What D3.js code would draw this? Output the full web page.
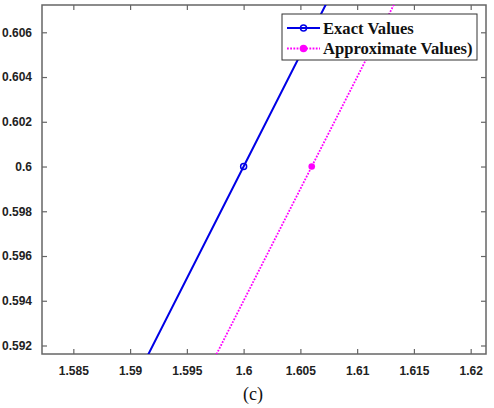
<!DOCTYPE html>
<html>
<head>
<meta charset="utf-8">
<script src="https://cdn.jsdelivr.net/npm/d3@7"></script>
<style>
  body { margin: 0; background: #fff; }
  .tick text { font-family: "Liberation Sans", Arial, sans-serif; font-weight: bold; font-size: 12px; fill: #222; }
</style>
</head>
<body>
<div id="chart"></div>
<script>
const W = 494, H = 408

// data
const exactX = [1.58, 1.6, 1.62]
const exactY = [0.58, 0.6, 0.62]
const approxX = [1.586, 1.606, 1.626]
const approxY = [0.58, 0.6, 0.62]
const xTicks = [1.585, 1.59, 1.595, 1.6, 1.605, 1.61, 1.615, 1.62]
const yTicks = [0.592, 0.594, 0.596, 0.598, 0.6, 0.602, 0.604, 0.606]
const legendLabels = ['Exact Values', 'Approximate Values)']
const caption = '(c)'

const mLeft = 42, mRight = 486, mTop = 5, mBottom = 354

const svg = d3.select('#chart').append('svg')
    .attr('width', W)
    .attr('height', H)

/*
 * scales
 */
const xScale = d3.scaleLinear()
    .domain([1.58224, 1.62135])
    .range([mLeft, mRight])

const yScale = d3.scaleLinear()
    .domain([0.59162, 0.60722])
    .range([mBottom, mTop])

svg.append('clipPath').attr('id', 'clip')
    .append('rect')
    .attr('x', mLeft).attr('y', mTop)
    .attr('width', mRight - mLeft).attr('height', mBottom - mTop)

/*
 * axes, ticks inward on all four sides
 */
const axisColor = '#666'
const tickLen = 5

const xAxis = d3.axisBottom(xScale).tickValues(xTicks).tickSize(-tickLen).tickPadding(12).tickFormat(d3.format('~g'))
const xAxisTop = d3.axisTop(xScale).tickValues(xTicks).tickSize(-tickLen).tickFormat('')
const yAxis = d3.axisLeft(yScale).tickValues(yTicks).tickSize(-tickLen).tickPadding(10).tickFormat(d3.format('~g'))
const yAxisRight = d3.axisRight(yScale).tickValues(yTicks).tickSize(-tickLen).tickFormat('')

function styleAxis(g) {
    g.select('.domain').remove()
    g.selectAll('.tick line').attr('stroke', axisColor).attr('stroke-width', 1.2)
}

svg.append('g').attr('transform', `translate(0,${mBottom})`).call(xAxis).call(styleAxis)
svg.append('g').attr('transform', `translate(0,${mTop})`).call(xAxisTop).call(styleAxis)
svg.append('g').attr('transform', `translate(${mLeft},0)`).call(yAxis).call(styleAxis)
svg.append('g').attr('transform', `translate(${mRight},0)`).call(yAxisRight).call(styleAxis)

svg.append('rect')
    .attr('x', mLeft).attr('y', mTop)
    .attr('width', mRight - mLeft).attr('height', mBottom - mTop)
    .attr('fill', 'none')
    .attr('stroke', axisColor)
    .attr('stroke-width', 1.5)

/*
 * lines
 */
const line = d3.line()
    .x(d => xScale(d[0]))
    .y(d => yScale(d[1]))

const plot = svg.append('g').attr('clip-path', 'url(#clip)')

const exact = exactX.map((x, i) => [x, exactY[i]])
const approx = approxX.map((x, i) => [x, approxY[i]])

plot.append('path')
    .datum(exact)
    .attr('d', line)
    .style('fill', 'none')
    .style('stroke', '#0000e6')
    .style('stroke-width', 2)

plot.append('path')
    .datum(approx)
    .attr('d', line)
    .style('fill', 'none')
    .style('stroke', '#ff00ff')
    .style('stroke-width', 1.8)
    .style('stroke-dasharray', '1.8,1.4')

plot.selectAll('.m-exact').data(exact).enter().append('circle')
    .attr('cx', d => xScale(d[0]))
    .attr('cy', d => yScale(d[1]))
    .attr('r', 3)
    .style('fill', 'none')
    .style('stroke', '#0000e6')
    .style('stroke-width', 1.5)

plot.selectAll('.m-approx').data(approx).enter().append('circle')
    .attr('cx', d => xScale(d[0]))
    .attr('cy', d => yScale(d[1]))
    .attr('r', 3.3)
    .style('fill', '#ff00ff')

/*
 * legend
 */
const lg = svg.append('g')
lg.append('rect')
    .attr('x', 282).attr('y', 14)
    .attr('width', 195).attr('height', 46)
    .attr('fill', '#fff')
    .attr('stroke', '#333')
    .attr('stroke-width', 1)

const rows = [
    { y: 28, color: '#0000e6', dash: null, w: 2, fill: 'none' },
    { y: 48.5, color: '#ff00ff', dash: '1.8,1.4', w: 1.8, fill: '#ff00ff' }
]
rows.forEach((r, i) => {
    lg.append('line')
        .attr('x1', 287).attr('x2', 320)
        .attr('y1', r.y).attr('y2', r.y)
        .style('stroke', r.color)
        .style('stroke-width', r.w)
        .style('stroke-dasharray', r.dash)
    lg.append('circle')
        .attr('cx', 303.5).attr('cy', r.y).attr('r', 3)
        .style('fill', r.fill)
        .style('stroke', r.color)
        .style('stroke-width', 1.5)
    lg.append('text')
        .attr('x', 323).attr('y', r.y + 5.5)
        .style('font-family', '"Liberation Serif", "Times New Roman", serif')
        .style('font-weight', 'bold')
        .style('font-size', '16.6px')
        .style('fill', '#111')
        .text(legendLabels[i])
})

svg.append('text')
    .attr('x', 253).attr('y', 400)
    .attr('text-anchor', 'middle')
    .style('font-family', '"Liberation Serif", "Times New Roman", serif')
    .style('font-size', '18px')
    .style('fill', '#111')
    .text(caption)
</script>
</body>
</html>
